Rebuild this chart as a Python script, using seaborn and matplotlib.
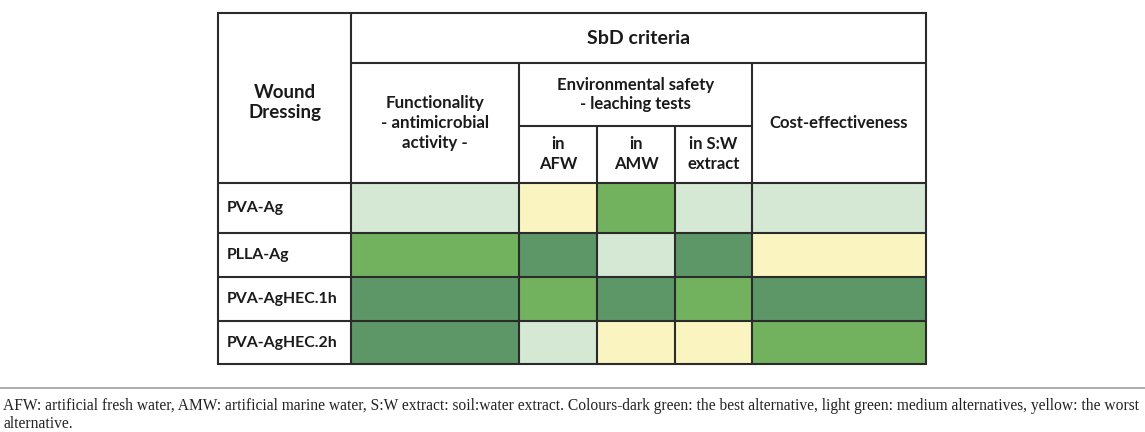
import numpy as np
import pandas as pd
import matplotlib
matplotlib.use("Agg")
import matplotlib.pyplot as plt
from matplotlib.colors import ListedColormap
import seaborn as sns

# ---------------- data ----------------
dressings = ["PVA-Ag", "PLLA-Ag", "PVA-AgHEC.1h", "PVA-AgHEC.2h"]
criteria = ["Functionality", "in AFW", "in AMW", "in S:W extract", "Cost-effectiveness"]
# 0 = yellow (worst), 1 = light green (medium), 2 = green (medium), 3 = dark green (best)
functionality = [1, 2, 3, 3]
leach_afw = [0, 3, 2, 1]
leach_amw = [2, 1, 3, 0]
leach_sw = [1, 3, 2, 0]
cost = [1, 0, 3, 2]
level_colors = ["#faf4c0", "#d5e8d4", "#72b25e", "#5d9767"]

header_wound = "Wound\nDressing"
header_sbd = "SbD criteria"
header_func = "Functionality\n- antimicrobial\nactivity -"
header_env = "Environmental safety\n- leaching tests"
header_sub = ["in\nAFW", "in\nAMW", "in S:W\nextract"]
header_cost = "Cost-effectiveness"
caption_1 = ("AFW: artificial fresh water, AMW: artificial marine water, S:W extract: soil:water extract. "
             "Colours-dark green: the best alternative, light green: medium alternatives, yellow: the worst")
caption_2 = "alternative."

# ---------------- layout (pixels) ----------------
W, H = 1145, 432
col_edges = [218, 351, 519, 597, 675, 752, 926]
row_edges = [13, 63, 126, 182.7, 233.3, 277.3, 321, 364.3]

sns.set_theme(style="white")
plt.rcParams["font.family"] = ["Lato", "DejaVu Sans"]

fig = plt.figure(figsize=(W / 100, H / 100), dpi=100)

# heatmap axes covering the data cells
x0, x1 = col_edges[1], col_edges[-1]
y0, y1 = row_edges[3], row_edges[-1]
hax = fig.add_axes([x0 / W, 1 - y1 / H, (x1 - x0) / W, (y1 - y0) / H])
df = pd.DataFrame({c: v for c, v in zip(criteria,
                   [functionality, leach_afw, leach_amw, leach_sw, cost])}, index=dressings)
widths = np.diff(col_edges[1:]).round().astype(int)
heights = np.diff(np.round(row_edges[3:])).astype(int)
expanded = np.repeat(np.repeat(df.values, widths, axis=1), heights, axis=0)
sns.heatmap(expanded, ax=hax, cmap=ListedColormap(level_colors), vmin=-0.5, vmax=3.5,
            cbar=False, xticklabels=False, yticklabels=False, linewidths=0)
hax.set_axis_off()
hax.set_zorder(1)

# overlay axes in pixel coords for grid lines and text
ax = fig.add_axes([0, 0, 1, 1])
ax.set_xlim(0, W)
ax.set_ylim(H, 0)
ax.set_axis_off()
ax.set_zorder(2)
ax.patch.set_alpha(0)

lc = "#2b2b2b"
lw = 1.5
L, R = col_edges[0], col_edges[-1]
T, B = row_edges[0], row_edges[-1]
# outer border
ax.plot([L, R, R, L, L], [T, T, B, B, T], color=lc, lw=lw, solid_joinstyle="miter")
# horizontal lines
ax.plot([col_edges[1], R], [row_edges[1]] * 2, color=lc, lw=lw)
ax.plot([col_edges[2], col_edges[5]], [row_edges[2]] * 2, color=lc, lw=lw)
for y in row_edges[3:-1]:
    ax.plot([L, R], [y, y], color=lc, lw=lw)
# vertical lines
ax.plot([col_edges[1]] * 2, [T, B], color=lc, lw=lw)
ax.plot([col_edges[2]] * 2, [row_edges[1], B], color=lc, lw=lw)
ax.plot([col_edges[5]] * 2, [row_edges[1], B], color=lc, lw=lw)
for x in col_edges[3:5]:
    ax.plot([x, x], [row_edges[2], B], color=lc, lw=lw)

tc = "#1a1a1a"
def cx(i, j):
    return (col_edges[i] + col_edges[j]) / 2
def cy(i, j):
    return (row_edges[i] + row_edges[j]) / 2

ax.text(cx(0, 1), cy(0, 3) + 5, header_wound, ha="center", va="center", fontsize=13.5,
        fontweight="bold", color=tc, linespacing=1.2)
ax.text(cx(1, 6), cy(0, 1) + 1, header_sbd, ha="center", va="center", fontsize=14,
        fontweight="bold", color=tc)
ax.text(cx(1, 2), cy(1, 3), header_func, ha="center", va="center", fontsize=12.2,
        fontweight="bold", color=tc, linespacing=1.3)
ax.text(cx(2, 5), cy(1, 2), header_env, ha="center", va="center", fontsize=12,
        fontweight="bold", color=tc, linespacing=1.3)
for k, lab in enumerate(header_sub):
    ax.text(cx(2 + k, 3 + k), cy(2, 3), lab, ha="center", va="center", fontsize=12,
            fontweight="bold", color=tc, linespacing=1.3)
ax.text(cx(5, 6), cy(1, 3), header_cost, ha="center", va="center", fontsize=12,
        fontweight="bold", color=tc)
for r, name in enumerate(df.index):
    ax.text(L + 9, cy(3 + r, 4 + r), name, ha="left", va="center", fontsize=11.4,
            fontweight="bold", color=tc)

# separator and caption
ax.plot([0, W], [388, 388], color="#a0a0a0", lw=1.2)
cap = ax.text(3, 406, caption_1, ha="left", va="center", fontsize=10,
              family=["Liberation Serif"], color="#222222")
fig.canvas.draw()
bb = cap.get_window_extent()
cap.set_fontsize(10 * (W - 8) / bb.width)
ax.text(3, 424, caption_2, ha="left", va="center", fontsize=cap.get_fontsize(),
        family=["Liberation Serif"], color="#222222")

fig.savefig("out.png", dpi=100)
